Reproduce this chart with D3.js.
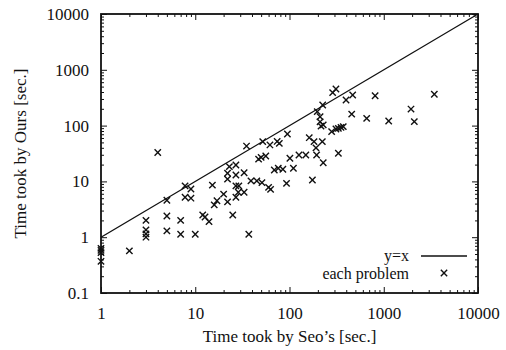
<!DOCTYPE html>
<html>
<head>
<meta charset="utf-8">
<script src="https://cdn.jsdelivr.net/npm/d3@7"></script>
<style>
  html, body { margin: 0; padding: 0; background: #fff; }
  svg { display: block; }
  text { font-family: "Liberation Serif", "DejaVu Serif", serif; fill: #111; }
</style>
</head>
<body>
<svg id="chart" width="506" height="350"></svg>
<script>
// ---- data ----
const seoTimes = [
  1, 1, 1, 1, 2, 3, 3, 3, 3, 4,
  5, 5, 5, 7, 7, 7.8, 9, 7.8, 9, 10,
  12, 12.7, 14, 15.2, 15.9, 17, 20, 22, 22, 23,
  22, 25, 27, 27, 27, 29, 27, 28.6, 33, 33,
  37, 39, 45, 47, 50, 56, 51, 60, 63, 69,
  76, 85, 93, 35, 52, 62, 74, 78, 101, 126,
  149, 194, 110, 95, 162, 182, 223, 191, 330, 228,
  175, 197, 225, 211, 211, 216, 228, 287, 311, 398,
  468, 457, 280, 311, 330, 352, 372, 659, 810, 1128,
  1946, 2110, 3440
];
const oursTimes = [
  0.63, 0.58, 0.53, 0.37, 0.57, 2.0, 1.35, 1.15, 1.0, 33,
  4.6, 2.4, 1.3, 2.0, 1.13, 8.3, 7.3, 5.2, 5.0, 1.13,
  2.5, 2.3, 1.9, 8.6, 3.8, 4.5, 5.9, 4.3, 14, 18.4,
  11, 2.5, 19.7, 13, 8.3, 8.3, 5.2, 6.4, 14.3, 6.4,
  1.13, 10.2, 10.2, 25, 27, 28.5, 9.5, 7.8, 7.2, 16,
  17.2, 16.5, 9.2, 43, 51.5, 45, 52, 48, 26, 29.7,
  29.7, 29.7, 17.2, 70.7, 60.7, 51.5, 51.5, 40, 31.9, 21.6,
  10.6, 178, 234, 144, 117, 98, 103, 389, 453, 288,
  353, 161, 78, 87, 89, 93, 96, 135, 343, 121,
  198, 118, 364
];
const xDomain = [1, 10000];
const yDomain = [0.1, 10000];
const xTickLabels = ["1", "10", "100", "1000", "10000"];
const yTickLabels = ["0.1", "1", "10", "100", "1000", "10000"];
const seriesNames = ["y=x", "each problem"];
const xTitle = "Time took by Seo\u2019s [sec.]";
const yTitle = "Time took by Ours [sec.]";

// ---- layout ----
const L = 101, R = 478, T = 14, B = 293;
const svg = d3.select("#chart");
const ink = "#111";
const fontSize = 17;

const x = d3.scaleLog().domain(xDomain).range([L, R]);
const y = d3.scaleLog().domain(yDomain).range([B, T]);

const xMajor = xTickLabels.map(Number);
const yMajor = yTickLabels.map(Number);
const xMinor = x.ticks().filter(v => !xMajor.some(m => Math.abs(m - v) < 1e-9));
const yMinor = y.ticks().filter(v => !yMajor.some(m => Math.abs(m - v) < 1e-9));

function styleAxis(g) {
  g.select(".domain").remove();
  g.selectAll(".tick line").attr("stroke", ink).attr("stroke-width", 1);
}

// bottom: major with labels
svg.append("g").attr("transform", `translate(0,${B})`)
  .call(d3.axisBottom(x).tickValues(xMajor).tickSize(-6).tickPadding(14)
        .tickFormat((d, i) => xTickLabels[i]))
  .call(styleAxis)
  .call(g => g.selectAll("text").attr("font-size", fontSize)
        .attr("font-family", "Liberation Serif").attr("fill", ink));
svg.append("g").attr("transform", `translate(0,${B})`)
  .call(d3.axisBottom(x).tickValues(xMinor).tickSize(-3).tickFormat(""))
  .call(styleAxis);
// top mirror
svg.append("g").attr("transform", `translate(0,${T})`)
  .call(d3.axisTop(x).tickValues(xMajor).tickSize(-6).tickFormat(""))
  .call(styleAxis);
svg.append("g").attr("transform", `translate(0,${T})`)
  .call(d3.axisTop(x).tickValues(xMinor).tickSize(-3).tickFormat(""))
  .call(styleAxis);
// left: major with labels
svg.append("g").attr("transform", `translate(${L},0)`)
  .call(d3.axisLeft(y).tickValues(yMajor).tickSize(-6).tickPadding(12)
        .tickFormat((d, i) => yTickLabels[i]))
  .call(styleAxis)
  .call(g => g.selectAll("text").attr("font-size", fontSize)
        .attr("font-family", "Liberation Serif").attr("fill", ink));
svg.append("g").attr("transform", `translate(${L},0)`)
  .call(d3.axisLeft(y).tickValues(yMinor).tickSize(-3).tickFormat(""))
  .call(styleAxis);
// right mirror
svg.append("g").attr("transform", `translate(${R},0)`)
  .call(d3.axisRight(y).tickValues(yMajor).tickSize(-6).tickFormat(""))
  .call(styleAxis);
svg.append("g").attr("transform", `translate(${R},0)`)
  .call(d3.axisRight(y).tickValues(yMinor).tickSize(-3).tickFormat(""))
  .call(styleAxis);

// border
svg.append("rect").attr("x", L).attr("y", T).attr("width", R - L).attr("height", B - T)
  .attr("fill", "none").attr("stroke", ink).attr("stroke-width", 1.8);

// y = x line
const lineData = [xDomain[0], xDomain[1]];
svg.append("path")
  .datum(lineData)
  .attr("d", d3.line().x(d => x(d)).y(d => y(d)))
  .attr("fill", "none").attr("stroke", ink).attr("stroke-width", 1.3);

// scatter markers
const pts = seoTimes.map((s, i) => ({ sx: s, oy: oursTimes[i] }));
const cross = d3.symbol().type(d3.symbolTimes).size(28);
svg.append("g").selectAll("path").data(pts).join("path")
  .attr("transform", d => `translate(${x(d.sx)},${y(d.oy)})`)
  .attr("d", cross)
  .attr("fill", "none").attr("stroke", ink).attr("stroke-width", 1.4);

// legend
const legendSize = 16;
const lg = svg.append("g");
lg.append("text").attr("x", 409).attr("y", 261).attr("text-anchor", "end")
  .attr("font-size", legendSize).text(seriesNames[0]);
lg.append("line").attr("x1", 421).attr("x2", 467).attr("y1", 256).attr("y2", 256)
  .attr("stroke", ink).attr("stroke-width", 1.3);
lg.append("text").attr("x", 409).attr("y", 279).attr("text-anchor", "end")
  .attr("font-size", legendSize).text(seriesNames[1]);
lg.append("path").attr("transform", "translate(444,273)").attr("d", cross())
  .attr("fill", "none").attr("stroke", ink).attr("stroke-width", 1.4);

// axis titles
svg.append("text").attr("x", (L + R) / 2).attr("y", 342).attr("text-anchor", "middle")
  .attr("font-size", fontSize).text(xTitle);
svg.append("text").attr("transform", `translate(26,${(T + B) / 2}) rotate(-90)`)
  .attr("text-anchor", "middle").attr("font-size", fontSize).text(yTitle);
</script>
</body>
</html>
